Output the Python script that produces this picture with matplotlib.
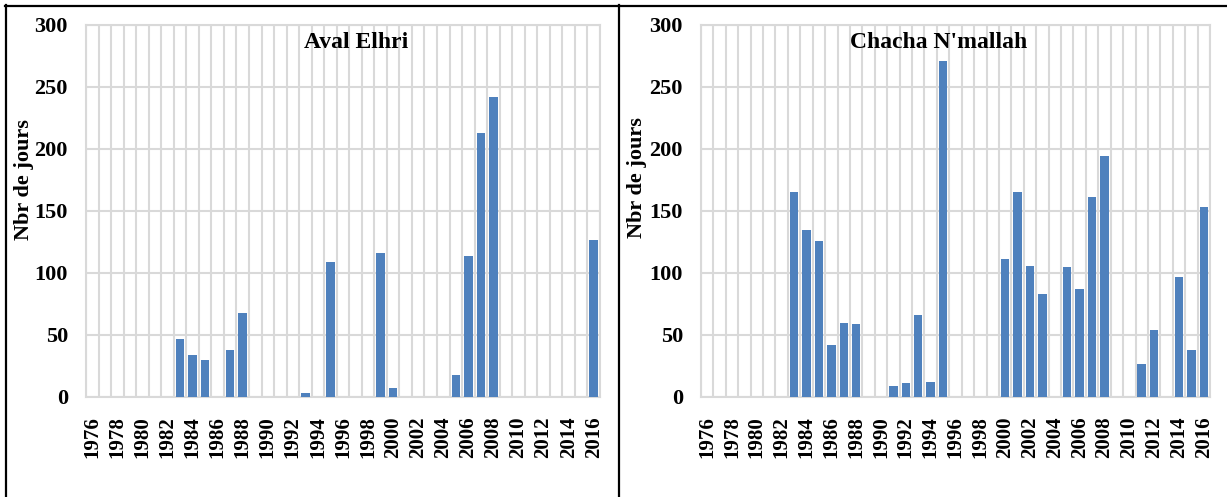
import matplotlib
matplotlib.use('Agg')
import matplotlib.pyplot as plt
from matplotlib.lines import Line2D

# --- 1. Données (nombre de jours par année) ---
annees = list(range(1976, 2017))

aval_elhri = [0, 0, 0, 0, 0, 0, 0,
              47, 34, 30, 0, 38, 68, 0, 0, 0, 0, 3, 0, 109, 0, 0, 0, 116, 7,
              0, 0, 0, 0, 18, 114, 213, 242, 0, 0, 0, 0, 0, 0, 0, 127]

chacha_nmallah = [0, 0, 0, 0, 0, 0, 0,
                  165, 135, 126, 42, 60, 59, 0, 0, 9, 11, 66, 12, 271, 0, 0, 0, 0, 111,
                  165, 106, 83, 0, 105, 87, 161, 194, 0, 0, 27, 54, 0, 97, 38, 153]

titres = ['Aval Elhri', "Chacha N'mallah"]
etiquettes_x = [str(a) if (a - 1976) % 2 == 0 else '' for a in annees]
graduations_y = [0, 50, 100, 150, 200, 250, 300]

# --- 2. Style ---
plt.rcParams['font.family'] = ['Liberation Serif', 'DejaVu Serif']
plt.rcParams['font.weight'] = 'bold'
couleur_barre = '#4F81BD'
couleur_grille = '#D9D9D9'

W, H = 1227, 497
fig = plt.figure(figsize=(W / 100, H / 100), dpi=100)

# positions des zones de tracé (en pixels)
zones = [(86, 600), (701, 1210)]
haut, bas = 25, 397
pos_titre = [0.525, 0.466]
pos_ylabel = [(24, 180), (637, 178)]

for k, valeurs in enumerate([aval_elhri, chacha_nmallah]):
    x0, x1 = zones[k]
    ax = fig.add_axes([x0 / W, 1 - bas / H, (x1 - x0) / W, (bas - haut) / H])
    x = range(len(annees))
    ax.bar(x, valeurs, width=0.68, color=couleur_barre, linewidth=0, zorder=3)

    ax.set_xlim(-0.5, len(annees) - 0.5)
    ax.set_ylim(0, 300)

    # grille verticale entre les catégories, horizontale tous les 50
    for i in range(len(annees) + 1):
        ax.axvline(i - 0.5, color=couleur_grille, linewidth=1.5, zorder=1)
    for g in graduations_y:
        ax.axhline(g, color=couleur_grille, linewidth=1.5, zorder=1)

    for s in ax.spines.values():
        s.set_color(couleur_grille)
        s.set_linewidth(1.5)

    ax.set_xticks(list(x))
    ax.set_xticklabels(etiquettes_x, rotation=90, fontsize=15, fontweight='bold')
    ax.set_yticks(graduations_y)
    ax.set_yticklabels([str(g) for g in graduations_y], fontsize=16, fontweight='bold')
    ax.tick_params(axis='both', length=0)
    ax.tick_params(axis='x', pad=14)
    ax.tick_params(axis='y', pad=13)

    ax.text(pos_titre[k], 0.952, titres[k], transform=ax.transAxes,
            ha='center', va='center', fontsize=17, fontweight='bold')

    fig.text(pos_ylabel[k][0] / W, 1 - pos_ylabel[k][1] / H, 'Nbr de jours',
             rotation=90, ha='center', va='center', fontsize=16, fontweight='bold')

# --- 3. Cadres noirs ---
def ligne(xa, ya, xb, yb):
    fig.add_artist(Line2D([xa / W, xb / W], [1 - ya / H, 1 - yb / H],
                          color='black', linewidth=1.6, transform=fig.transFigure))

ligne(5, 6, W, 6)
ligne(6, 5, 6, H)
ligne(619, 5, 619, H)

plt.savefig('out.png', dpi=100)
